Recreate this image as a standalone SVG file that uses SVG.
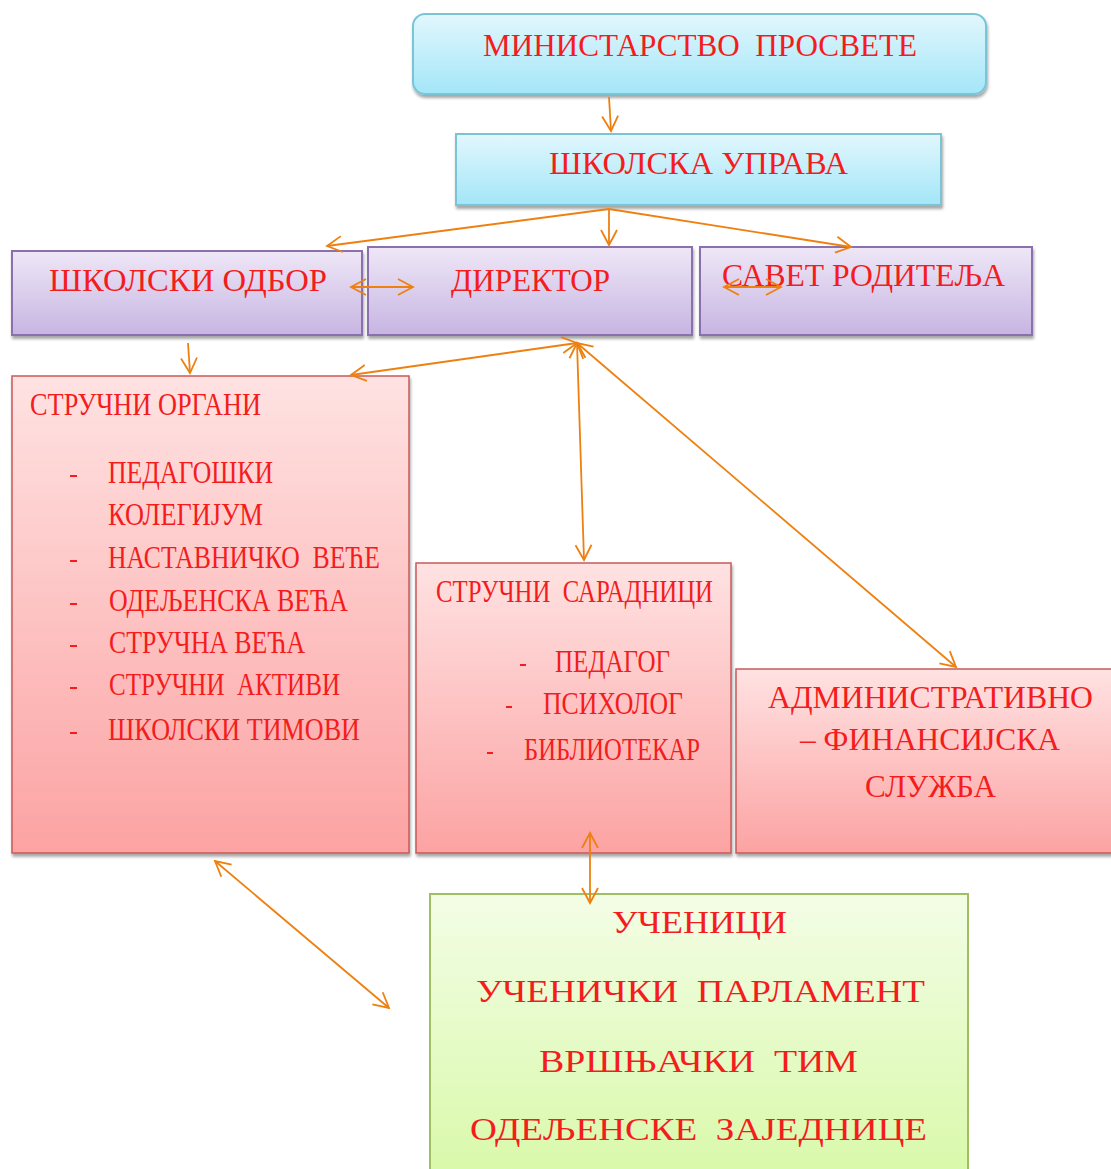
<svg xmlns="http://www.w3.org/2000/svg" width="1111" height="1169" viewBox="0 0 1111 1169">
<style>
.t{font-family:"Liberation Serif","Times New Roman",serif;font-size:31px;fill:#f41c1c;white-space:pre;}
.c{stroke:#ee8010;stroke-width:1.8;fill:none;}
.cyan{fill:url(#gCyan);stroke:#79c5d6;stroke-width:2;filter:url(#sh);}
.pur{fill:url(#gPur);stroke:#8a70ac;stroke-width:2;filter:url(#sh);}
.red{fill:url(#gRed);stroke:#c85a58;stroke-width:1.5;filter:url(#sh);}
.grn{fill:url(#gGrn);stroke:#9fc060;stroke-width:2;}
.d{stroke:#f41c1c;stroke-width:2;}
</style>
<defs>
<linearGradient id="gCyan" x1="0" y1="0" x2="0" y2="1"><stop offset="0" stop-color="#e2f7fd"/><stop offset="1" stop-color="#a3e6f8"/></linearGradient>
<linearGradient id="gPur" x1="0" y1="0" x2="0" y2="1"><stop offset="0" stop-color="#eee7f7"/><stop offset="1" stop-color="#c7b5e2"/></linearGradient>
<linearGradient id="gRed" x1="0" y1="0" x2="0" y2="1"><stop offset="0" stop-color="#ffe2e2"/><stop offset="1" stop-color="#fca3a3"/></linearGradient>
<linearGradient id="gGrn" x1="0" y1="0" x2="0" y2="1"><stop offset="0" stop-color="#f3fde6"/><stop offset="1" stop-color="#d9f9aa"/></linearGradient>
<filter id="sh" x="-5%" y="-5%" width="110%" height="120%"><feDropShadow dx="1" dy="3" stdDeviation="1.5" flood-color="#000" flood-opacity="0.35"/></filter>
<marker id="ah" viewBox="0 -10 18 20" refX="16" refY="0" markerWidth="18" markerHeight="20" markerUnits="userSpaceOnUse" orient="auto-start-reverse">
<path d="M1,-8 L16,0 L1,8" fill="none" stroke="#ee8010" stroke-width="1.8"/>
</marker>
</defs>

<g id="ministarstvo">
<rect class="cyan" x="413" y="14" width="573" height="80" rx="12"/>
<text class="t" x="483" y="56" textLength="434" lengthAdjust="spacingAndGlyphs">МИНИСТАРСТВО  ПРОСВЕТЕ</text>
</g>
<g id="skolska-uprava">
<rect class="cyan" x="456" y="134" width="485" height="71"/>
<text class="t" x="549" y="174" textLength="299" lengthAdjust="spacingAndGlyphs">ШКОЛСКА УПРАВА</text>
</g>
<g id="skolski-odbor">
<rect class="pur" x="12" y="251" width="350" height="84"/>
<text class="t" x="49" y="291" textLength="278" lengthAdjust="spacingAndGlyphs">ШКОЛСКИ ОДБОР</text>
</g>
<g id="direktor">
<rect class="pur" x="368" y="247" width="324" height="88"/>
<text class="t" x="451" y="291" textLength="159" lengthAdjust="spacingAndGlyphs">ДИРЕКТОР</text>
</g>
<g id="savet-roditelja">
<rect class="pur" x="700" y="247" width="332" height="88"/>
<text class="t" x="722" y="286" textLength="283" lengthAdjust="spacingAndGlyphs">САВЕТ РОДИТЕЉА</text>
</g>
<g id="strucni-organi">
<rect class="red" x="12" y="376" width="397" height="477"/>
<text class="t" x="30" y="415" textLength="231" lengthAdjust="spacingAndGlyphs">СТРУЧНИ ОРГАНИ</text>
<line class="d" x1="70" y1="476" x2="77" y2="476"/>
<text class="t" x="108" y="483" textLength="165" lengthAdjust="spacingAndGlyphs">ПЕДАГОШКИ</text>
<text class="t" x="108" y="525" textLength="155" lengthAdjust="spacingAndGlyphs">КОЛЕГИЈУМ</text>
<line class="d" x1="70" y1="561" x2="77" y2="561"/>
<text class="t" x="108" y="568" textLength="272" lengthAdjust="spacingAndGlyphs">НАСТАВНИЧКО  ВЕЋЕ</text>
<line class="d" x1="70" y1="604" x2="77" y2="604"/>
<text class="t" x="109" y="611" textLength="239" lengthAdjust="spacingAndGlyphs">ОДЕЉЕНСКА ВЕЋА</text>
<line class="d" x1="70" y1="646" x2="77" y2="646"/>
<text class="t" x="109" y="653" textLength="196" lengthAdjust="spacingAndGlyphs">СТРУЧНА ВЕЋА</text>
<line class="d" x1="70" y1="688" x2="77" y2="688"/>
<text class="t" x="109" y="695" textLength="231" lengthAdjust="spacingAndGlyphs">СТРУЧНИ  АКТИВИ</text>
<line class="d" x1="70" y1="733" x2="77" y2="733"/>
<text class="t" x="108" y="740" textLength="252" lengthAdjust="spacingAndGlyphs">ШКОЛСКИ ТИМОВИ</text>
</g>
<g id="strucni-saradnici">
<rect class="red" x="416" y="563" width="315" height="290"/>
<text class="t" x="436" y="602" textLength="277" lengthAdjust="spacingAndGlyphs">СТРУЧНИ  САРАДНИЦИ</text>
<line class="d" x1="520" y1="665" x2="526" y2="665"/>
<text class="t" x="555" y="672" textLength="115" lengthAdjust="spacingAndGlyphs">ПЕДАГОГ</text>
<line class="d" x1="506" y1="707" x2="512" y2="707"/>
<text class="t" x="543" y="714" textLength="140" lengthAdjust="spacingAndGlyphs">ПСИХОЛОГ</text>
<line class="d" x1="487" y1="753" x2="493" y2="753"/>
<text class="t" x="524" y="760" textLength="176" lengthAdjust="spacingAndGlyphs">БИБЛИОТЕКАР</text>
</g>
<g id="administrativno">
<rect class="red" x="736" y="669" width="380" height="184"/>
<text class="t" x="768" y="708" textLength="325" lengthAdjust="spacingAndGlyphs">АДМИНИСТРАТИВНО</text>
<text class="t" x="800" y="750" textLength="260" lengthAdjust="spacingAndGlyphs">– ФИНАНСИЈСКА</text>
<text class="t" x="865" y="797" textLength="131" lengthAdjust="spacingAndGlyphs">СЛУЖБА</text>
</g>
<g id="ucenici">
<rect class="grn" x="430" y="894" width="538" height="280"/>
<text class="t" x="612" y="933" textLength="175" lengthAdjust="spacingAndGlyphs">УЧЕНИЦИ</text>
<text class="t" x="476" y="1002" textLength="449" lengthAdjust="spacingAndGlyphs">УЧЕНИЧКИ  ПАРЛАМЕНТ</text>
<text class="t" x="539" y="1072" textLength="319" lengthAdjust="spacingAndGlyphs">ВРШЊАЧКИ  ТИМ</text>
<text class="t" x="470" y="1140" textLength="457" lengthAdjust="spacingAndGlyphs">ОДЕЉЕНСКЕ  ЗАЈЕДНИЦЕ</text>
</g>

<g id="connectors">
<line class="c" x1="609" y1="97" x2="611" y2="131" marker-end="url(#ah)"/>
<line class="c" x1="609" y1="209" x2="327" y2="246" marker-end="url(#ah)"/>
<line class="c" x1="609" y1="209" x2="609" y2="245" marker-end="url(#ah)"/>
<line class="c" x1="609" y1="209" x2="851" y2="247" marker-end="url(#ah)"/>
<line class="c" x1="351" y1="287" x2="413" y2="287" marker-start="url(#ah)" marker-end="url(#ah)"/>
<line class="c" x1="724" y1="287" x2="781" y2="287" marker-start="url(#ah)" marker-end="url(#ah)"/>
<line class="c" x1="188" y1="343" x2="190" y2="373" marker-end="url(#ah)"/>
<line class="c" x1="577" y1="343" x2="351" y2="375" marker-start="url(#ah)" marker-end="url(#ah)"/>
<line class="c" x1="577" y1="343" x2="584" y2="560" marker-start="url(#ah)" marker-end="url(#ah)"/>
<line class="c" x1="577" y1="343" x2="956" y2="667" marker-start="url(#ah)" marker-end="url(#ah)"/>
<line class="c" x1="215" y1="861" x2="389" y2="1008" marker-start="url(#ah)" marker-end="url(#ah)"/>
<line class="c" x1="590" y1="833" x2="590" y2="903" marker-start="url(#ah)" marker-end="url(#ah)"/>
</g>
</svg>
